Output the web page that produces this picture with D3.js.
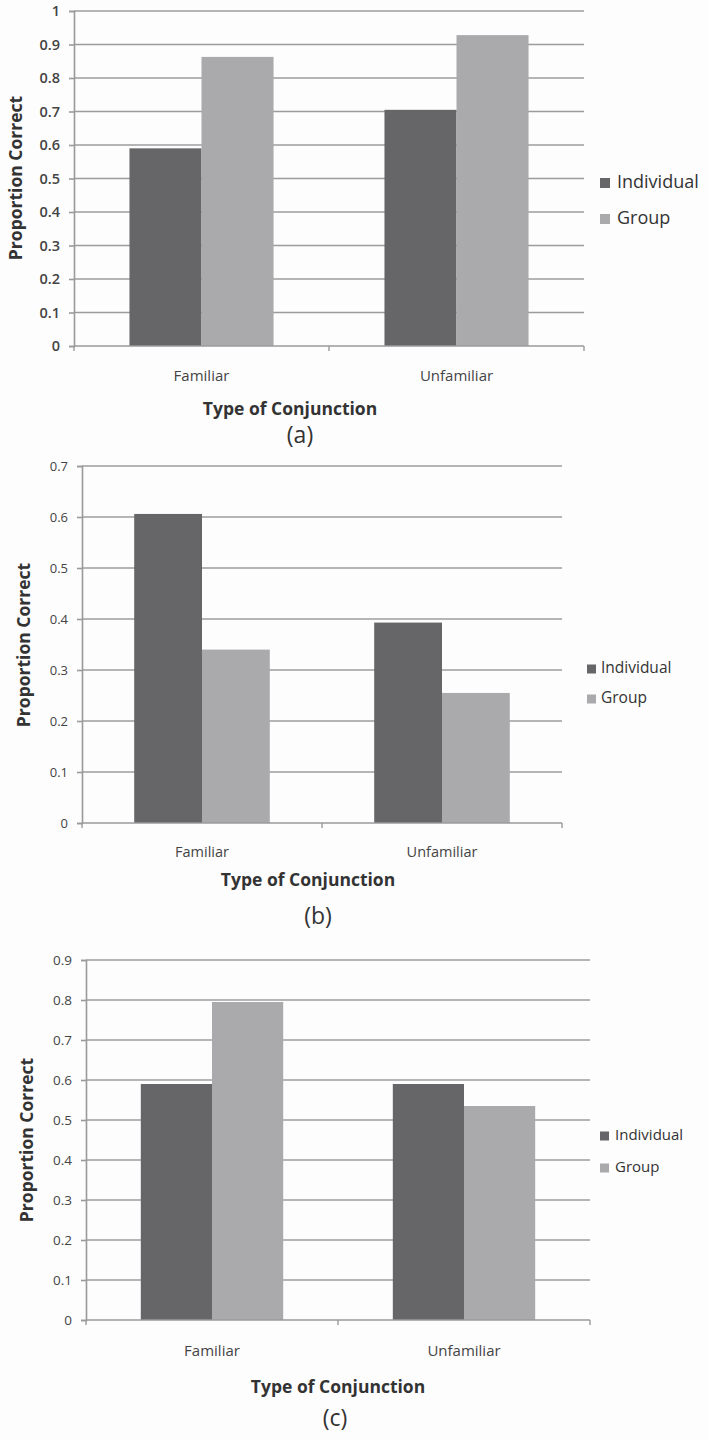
<!DOCTYPE html>
<html>
<head>
<meta charset="utf-8">
<script src="https://cdn.jsdelivr.net/npm/d3@7"></script>
<style>
  html, body { margin: 0; padding: 0; background: #fdfdfd; }
  svg { display: block; font-family: "Open Sans", "DejaVu Sans", sans-serif; }
</style>
</head>
<body>
<svg id="fig" width="709" height="1440"></svg>
<script>
// Categories and series shared by all three panels
const categories = ["Familiar", "Unfamiliar"];
const seriesNames = ["Individual", "Group"];
const seriesColors = ["#666668", "#aaaaad"];

// Proportion correct per panel: [Familiar, Unfamiliar]
const panelA_individual = [0.59, 0.705];
const panelA_group = [0.863, 0.928];
const panelB_individual = [0.606, 0.393];
const panelB_group = [0.34, 0.255];
const panelC_individual = [0.59, 0.59];
const panelC_group = [0.795, 0.535];

// Y tick labels per panel
const panelA_ticks = ["0", "0.1", "0.2", "0.3", "0.4", "0.5", "0.6", "0.7", "0.8", "0.9", "1"];
const panelB_ticks = ["0", "0.1", "0.2", "0.3", "0.4", "0.5", "0.6", "0.7"];
const panelC_ticks = ["0", "0.1", "0.2", "0.3", "0.4", "0.5", "0.6", "0.7", "0.8", "0.9"];

const svg = d3.select("#fig");
svg.append("rect").attr("width", 709).attr("height", 1440).attr("fill", "#fdfdfd");

function drawPanel(cfg) {
  const g = svg.append("g");
  const yMax = +cfg.ticks[cfg.ticks.length - 1];
  const y = d3.scaleLinear().domain([0, yMax]).range([cfg.bottom, cfg.top]);
  const x = d3.scaleBand().domain(categories).range([cfg.left, cfg.right]).padding(0);
  const xs = d3.scaleBand().domain(seriesNames).range([0, x.bandwidth()])
    .paddingInner(0).paddingOuter(0.77);

  // horizontal gridlines
  g.append("g").selectAll("line").data(cfg.ticks.slice(1)).join("line")
    .attr("x1", cfg.left).attr("x2", cfg.right)
    .attr("y1", d => y(+d)).attr("y2", d => y(+d))
    .attr("stroke", "#9c9c9e").attr("stroke-width", 1.6);

  // bars
  const rows = categories.map((c, i) => ({
    cat: c,
    vals: [cfg.individual[i], cfg.group[i]]
  }));
  g.append("g").selectAll("g").data(rows).join("g")
    .attr("transform", d => `translate(${x(d.cat)},0)`)
    .selectAll("rect").data(d => d.vals.map((v, j) => ({ v, s: seriesNames[j], j })))
    .join("rect")
    .attr("x", d => xs(d.s))
    .attr("width", xs.bandwidth())
    .attr("y", d => y(d.v))
    .attr("height", d => y(0) - y(d.v))
    .attr("fill", d => seriesColors[d.j]);

  // y axis
  const yAxis = d3.axisLeft(y).tickValues(cfg.ticks.map(Number))
    .tickFormat((d, i) => cfg.ticks[i]).tickSize(5).tickPadding(cfg.tickPad);
  const ya = g.append("g").attr("transform", `translate(${cfg.left},0)`).call(yAxis);
  ya.select(".domain").attr("stroke", "#9a9a9c").attr("stroke-width", 1.6);
  ya.selectAll(".tick line").attr("stroke", "#9a9a9c").attr("stroke-width", 1.6);
  ya.selectAll(".tick text").attr("fill", "#444").attr("font-size", cfg.tickFont)
    .attr("font-weight", cfg.tickWeight).attr("font-family", "Open Sans, sans-serif");

  // x axis baseline with boundary ticks
  g.append("line").attr("x1", cfg.left).attr("x2", cfg.right)
    .attr("y1", y(0)).attr("y2", y(0)).attr("stroke", "#9a9a9c").attr("stroke-width", 1.6);
  const bounds = [cfg.left, x(categories[1]), cfg.right];
  g.append("g").selectAll("line").data(bounds).join("line")
    .attr("x1", d => d).attr("x2", d => d)
    .attr("y1", y(0)).attr("y2", y(0) + 5)
    .attr("stroke", "#9a9a9c").attr("stroke-width", 1.4);

  // category labels
  g.append("g").selectAll("text").data(categories).join("text")
    .attr("x", d => x(d) + x.bandwidth() / 2)
    .attr("y", cfg.catY)
    .attr("text-anchor", "middle").attr("dominant-baseline", "middle")
    .attr("font-size", cfg.catFont).attr("fill", "#444")
    .text(d => d);

  // axis titles
  g.append("text").attr("x", cfg.xTitleX).attr("y", cfg.xTitleY)
    .attr("text-anchor", "middle").attr("dominant-baseline", "middle")
    .attr("font-size", cfg.titleFont).attr("font-weight", 700).attr("fill", "#333")
    .text("Type of Conjunction");
  g.append("text")
    .attr("transform", `translate(${cfg.yTitleX},${cfg.yTitleY}) rotate(-90)`)
    .attr("text-anchor", "middle").attr("dominant-baseline", "middle")
    .attr("font-size", cfg.titleFont).attr("font-weight", 700).attr("fill", "#333")
    .text("Proportion Correct");

  // sub-figure label
  g.append("text").attr("x", cfg.subX).attr("y", cfg.subY)
    .attr("text-anchor", "middle").attr("dominant-baseline", "middle")
    .attr("font-size", 23).attr("fill", "#333")
    .text(cfg.sub);

  // legend
  const lg = g.append("g").selectAll("g").data(seriesNames).join("g")
    .attr("transform", (d, i) => `translate(${cfg.legX},${cfg.legY + i * cfg.legStep})`);
  lg.append("rect").attr("x", 0).attr("y", -cfg.legSq / 2)
    .attr("width", cfg.legSq).attr("height", cfg.legSq)
    .attr("fill", (d, i) => seriesColors[i]);
  lg.append("text").attr("x", cfg.legSq + cfg.legGap).attr("y", 0)
    .attr("dominant-baseline", "middle").attr("font-size", cfg.legFont)
    .attr("font-weight", cfg.legWeight).attr("fill", "#333")
    .text(d => d);
}

drawPanel({
  ticks: panelA_ticks, individual: panelA_individual, group: panelA_group,
  left: 74, right: 584, top: 11, bottom: 346,
  tickPad: 9, tickFont: 14.5, tickWeight: 600,
  catY: 377, catFont: 15,
  xTitleX: 290, xTitleY: 410, titleFont: 17.5,
  yTitleX: 17, yTitleY: 178,
  sub: "(a)", subX: 300, subY: 437,
  legX: 600, legY: 183, legStep: 36, legSq: 10, legGap: 7, legFont: 18, legWeight: 500
});

drawPanel({
  ticks: panelB_ticks, individual: panelB_individual, group: panelB_group,
  left: 82, right: 562, top: 466, bottom: 823,
  tickPad: 9, tickFont: 13, tickWeight: 400,
  catY: 853, catFont: 14.5,
  xTitleX: 308, xTitleY: 881, titleFont: 17.5,
  yTitleX: 25, yTitleY: 645,
  sub: "(b)", subX: 318, subY: 918,
  legX: 587, legY: 669, legStep: 30, legSq: 9, legGap: 5, legFont: 15.5, legWeight: 400
});

drawPanel({
  ticks: panelC_ticks, individual: panelC_individual, group: panelC_group,
  left: 86, right: 590, top: 960, bottom: 1320,
  tickPad: 9, tickFont: 13.5, tickWeight: 400,
  catY: 1352, catFont: 15,
  xTitleX: 338, xTitleY: 1388, titleFont: 17.5,
  yTitleX: 28, yTitleY: 1140,
  sub: "(c)", subX: 335, subY: 1420,
  legX: 600, legY: 1136, legStep: 32, legSq: 9, legGap: 6, legFont: 15, legWeight: 400
});
</script>
</body>
</html>
